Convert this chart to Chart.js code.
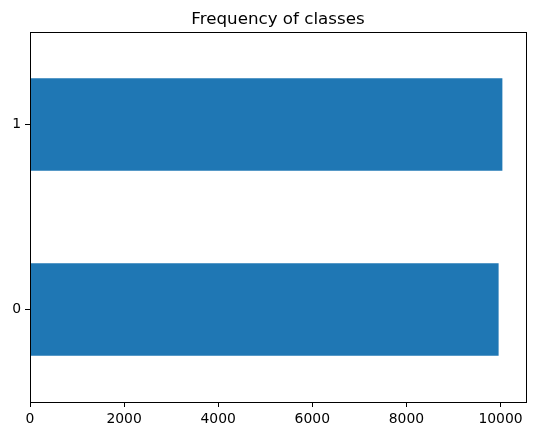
<!DOCTYPE html>
<html>
<head>
<meta charset="utf-8">
<script src="https://cdn.jsdelivr.net/npm/chart.js@4/dist/chart.umd.min.js"></script>
<style>
html,body{margin:0;padding:0;background:#fff;}
canvas{display:block;}
</style>
</head>
<body>
<canvas id="c" width="534" height="435"></canvas>
<script>
const categories = ['0', '1'];
const counts = [9960, 10040];
const xTicks = [0, 2000, 4000, 6000, 8000, 10000];
const titleText = 'Frequency of classes';

const frame = {
  id: 'frame',
  afterDatasetsDraw(chart) {
    const a = chart.chartArea, ctx = chart.ctx;
    ctx.save();
    ctx.strokeStyle = '#000';
    ctx.lineWidth = 1;
    ctx.strokeRect(Math.round(a.left) + 0.5, Math.round(a.top) + 0.5,
                   Math.round(a.right - a.left), Math.round(a.bottom - a.top));
    ctx.fillStyle = '#000';
    ctx.font = '16.7px "DejaVu Sans"';
    ctx.textAlign = 'center';
    ctx.textBaseline = 'alphabetic';
    ctx.fillText(titleText, (a.left + a.right) / 2, 24);
    ctx.restore();
  }
};

new Chart(document.getElementById('c'), {
  type: 'bar',
  data: {
    labels: categories,
    datasets: [{
      data: counts,
      backgroundColor: '#1f77b4',
      borderWidth: 0,
      categoryPercentage: 0.5,
      barPercentage: 1.0
    }]
  },
  options: {
    indexAxis: 'y',
    responsive: false,
    devicePixelRatio: 1,
    animation: false,
    layout: { padding: { left: 0, right: 8, top: 32, bottom: 0 } },
    plugins: {
      legend: { display: false },
      tooltip: { enabled: false },
      title: { display: false }
    },
    scales: {
      x: {
        type: 'linear',
        min: 0,
        max: Math.max(...counts) * 1.05,
        afterBuildTicks(scale) { scale.ticks = xTicks.map(v => ({ value: v })); },
        afterFit(scale) { scale.height = 33; },
        grid: { display: true, drawOnChartArea: false, drawTicks: true, tickLength: 5, color: '#000' },
        border: { display: true, color: '#000' },
        ticks: {
          color: '#000',
          padding: 4,
          maxRotation: 0,
          font: { family: 'DejaVu Sans', size: 13.9 },
          callback: (v) => String(v)
        }
      },
      y: {
        type: 'category',
        reverse: true,
        offset: true,
        afterFit(scale) { scale.width = 30; },
        grid: { display: true, drawOnChartArea: false, drawTicks: true, tickLength: 5, color: '#000', offset: false },
        border: { display: true, color: '#000' },
        ticks: {
          color: '#000',
          padding: 4,
          font: { family: 'DejaVu Sans', size: 13.9 }
        }
      }
    }
  },
  plugins: [frame]
});
</script>
</body>
</html>
